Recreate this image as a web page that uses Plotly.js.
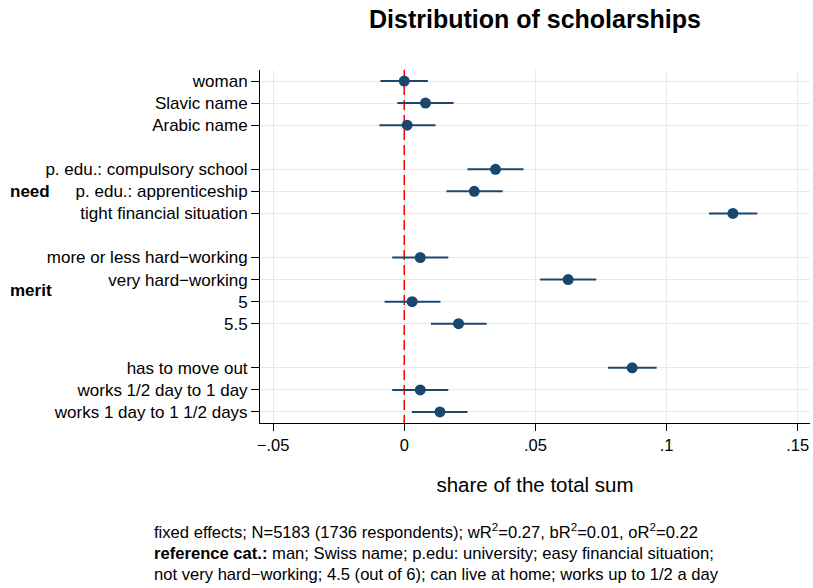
<!DOCTYPE html>
<html>
<head>
<meta charset="utf-8">
<script src="https://cdn.plot.ly/plotly-3.0.1.min.js"></script>
<style>html,body{margin:0;padding:0;background:#fff;}#chart{width:813px;height:588px;}</style>
</head>
<body>
<div id="chart"></div>
<script>
// Row labels and their positions (gaps separate the groups)
const labels = ["woman", "Slavic name", "Arabic name",
  "p. edu.: compulsory school", "p. edu.: apprenticeship", "tight financial situation",
  "more or less hard\u2212working", "very hard\u2212working", "5", "5.5",
  "has to move out", "works 1/2 day to 1 day", "works 1 day to 1 1/2 days"];
const rows = [1, 2, 3, 5, 6, 7, 9, 10, 11, 12, 14, 15, 16];
// Point estimates and confidence bounds
const estimate = [0.0000, 0.0081, 0.0011, 0.0348, 0.0267, 0.1253, 0.0061, 0.0625, 0.0030, 0.0207, 0.0869, 0.0061, 0.0136];
const ciLow    = [-0.0091, -0.0026, -0.0095, 0.0241, 0.0161, 0.1162, -0.0046, 0.0518, -0.0075, 0.0102, 0.0777, -0.0046, 0.0029];
const ciHigh   = [0.0090, 0.0188, 0.0119, 0.0455, 0.0375, 0.1346, 0.0168, 0.0732, 0.0138, 0.0314, 0.0962, 0.0168, 0.0241];
const xTickVals = [-0.05, 0, 0.05, 0.1, 0.15];
const xTickText = ["\u2212.05", "0", ".05", ".1", ".15"];
const refLineX = [0, 0];
const refLineY = [0.5, 16.5];
const groupNames = ["need", "merit"];
const groupRows = [6, 10.5];
const footLines = [
  "fixed effects; N=5183 (1736 respondents); wR<sup>2</sup>=0.27, bR<sup>2</sup>=0.01, oR<sup>2</sup>=0.22",
  "<b>reference cat.:</b> man; Swiss name; p.edu: university; easy financial situation;",
  "not very hard\u2212working; 4.5 (out of 6); can live at home; works up to 1/2 a day"
];

const navy = "#1a476f";
const font = "Liberation Sans, Arial, Helvetica, sans-serif";

const refLine = {
  type: "scatter", mode: "lines",
  x: refLineX, y: refLineY,
  line: {color: "#ff0000", width: 1.5, dash: "10px,5px"},
  hoverinfo: "skip", showlegend: false, cliponaxis: true
};

const trace = {
  type: "scatter", mode: "markers",
  x: estimate, y: rows,
  marker: {color: navy, size: 11},
  error_x: {
    type: "data", symmetric: false,
    array: estimate.map((v, i) => ciHigh[i] - v),
    arrayminus: estimate.map((v, i) => v - ciLow[i]),
    color: navy, thickness: 2, width: 0
  },
  hoverinfo: "x+y", showlegend: false
};

const L = 260, R = 3, T = 70, B = 165;
const W = 813, H = 588;
const pw = W - L - R, ph = H - T - B;
const px2x = p => (p - L) / pw;
const py2y = p => (H - B - p) / ph;

const annotations = groupNames.map((g, i) => ({
  text: "<b>" + g + "</b>", xref: "paper", yref: "y",
  x: px2x(8), y: groupRows[i], xanchor: "left", yanchor: "middle",
  showarrow: false, font: {family: font, size: 17, color: "#000"}
}));
const footY = [531, 553, 574];
footLines.forEach((t, i) => annotations.push({
  text: t, xref: "paper", yref: "paper",
  x: px2x(152), y: py2y(footY[i]), xanchor: "left", yanchor: "middle",
  showarrow: false, font: {family: font, size: 16.6, color: "#000"}
}));

const layout = {
  width: W, height: H,
  margin: {l: L, r: R, t: T, b: B, pad: 0},
  paper_bgcolor: "#fff", plot_bgcolor: "#fff",
  font: {family: font, size: 17, color: "#000"},
  title: {
    text: "<b>Distribution of scholarships</b>",
    font: {family: font, size: 25, color: "#000"},
    xref: "paper", x: 0.5, xanchor: "center",
    yref: "container", y: 1 - 19 / H, yanchor: "middle"
  },
  xaxis: {
    range: [-0.055, 0.1547],
    tickvals: xTickVals, ticktext: xTickText,
    showgrid: true, gridcolor: "#e8e8e8", gridwidth: 1,
    zeroline: false,
    showline: true, linecolor: "#000", linewidth: 1,
    ticks: "outside", ticklen: 7, tickcolor: "#000", tickwidth: 1,
    tickfont: {family: font, size: 16.5, color: "#000"},
    title: {text: "share of the total sum", font: {family: font, size: 20.5, color: "#000"}, standoff: 24},
    automargin: false
  },
  yaxis: {
    range: [16.5, 0.5],
    tickvals: rows, ticktext: labels,
    showgrid: true, gridcolor: "#e8e8e8", gridwidth: 1,
    zeroline: false,
    showline: true, linecolor: "#000", linewidth: 1,
    ticks: "outside", ticklen: 8, tickcolor: "#000", tickwidth: 1,
    tickfont: {family: font, size: 17, color: "#000"},
    automargin: false
  },
  annotations: annotations
};

Plotly.newPlot("chart", [refLine, trace], layout, {displayModeBar: false, staticPlot: true});
</script>
</body>
</html>
